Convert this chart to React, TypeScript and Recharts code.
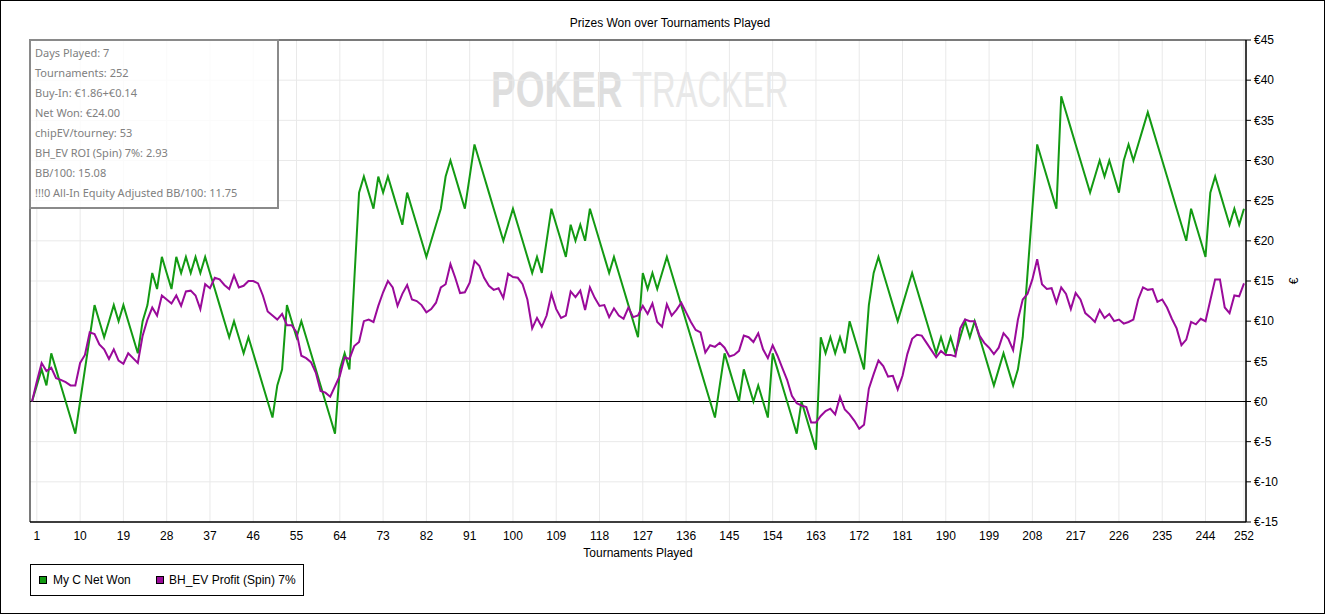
import React from 'react';
import { LineChart, Line, XAxis, YAxis, CartesianGrid, ReferenceLine, ReferenceArea } from 'recharts';

// Cumulative net won (€) after each tournament, index 0 = start
const netWon: number[] = [
  0, 2, 4, 2, 6, 4, 2, 0, -2, -4,
  0, 4, 8, 12, 10, 8, 10, 12, 10, 12,
  10, 8, 6, 10, 12, 16, 14, 18, 16, 14,
  18, 16, 18, 16, 18, 16, 18, 16, 14, 12,
  10, 8, 10, 8, 6, 8, 6, 4, 2, 0,
  -2, 2, 4, 12, 10, 8, 10, 8, 6, 4,
  2, 0, -2, -4, 4, 6, 4, 15, 26, 28,
  26, 24, 28, 26, 28, 26, 24, 22, 26, 24,
  22, 20, 18, 20, 22, 24, 28, 30, 28, 26,
  24, 28, 32, 30, 28, 26, 24, 22, 20, 22,
  24, 22, 20, 18, 16, 18, 16, 20, 24, 22,
  20, 18, 22, 20, 22, 20, 24, 22, 20, 18,
  16, 18, 16, 14, 12, 10, 8, 16, 14, 16,
  14, 16, 18, 16, 14, 12, 10, 8, 6, 4,
  2, 0, -2, 2, 6, 4, 2, 0, 4, 2,
  0, 2, 0, -2, 6, 4, 2, 0, -2, -4,
  0, -2, -4, -6, 8, 6, 8, 6, 8, 6,
  10, 8, 6, 4, 12, 16, 18, 16, 14, 12,
  10, 12, 14, 16, 14, 12, 10, 8, 6, 8,
  6, 8, 6, 8, 10, 8, 10, 8, 6, 4,
  2, 4, 6, 4, 2, 4, 8, 16, 24, 32,
  30, 28, 26, 24, 38, 36, 34, 32, 30, 28,
  26, 28, 30, 28, 30, 28, 26, 30, 32, 30,
  32, 34, 36, 34, 32, 30, 28, 26, 24, 22,
  20, 24, 22, 20, 18, 26, 28, 26, 24, 22,
  24, 22, 24,
];

// BH_EV profit (€) after each tournament
const evProfit: number[] = [
  0, 2.5, 4.8, 3.8, 4.2, 2.9, 2.7, 2.4, 2.0, 2.0,
  4.8, 5.8, 8.6, 8.4, 7.1, 6.5, 5.3, 6.5, 5.1, 4.7,
  6.0, 5.4, 4.8, 8.2, 10.2, 11.7, 10.7, 13.2, 12.7, 12.2,
  13.2, 11.9, 13.7, 13.8, 13.2, 11.5, 14.6, 14.1, 15.4, 15.2,
  14.5, 14.0, 15.7, 14.2, 14.4, 15.0, 15.0, 14.7, 13.2, 11.2,
  10.7, 10.2, 10.9, 9.5, 9.5, 8.6, 5.7, 5.4, 4.9, 3.6,
  1.3, 1.1, 0.6, 1.9, 3.2, 5.5, 5.3, 6.9, 7.4, 10.0,
  10.2, 9.9, 11.9, 13.6, 15.0, 14.2, 11.9, 13.4, 14.5, 12.7,
  12.5, 12.0, 11.1, 11.5, 12.3, 14.2, 14.6, 17.1, 15.4, 13.5,
  13.6, 14.8, 17.5, 16.9, 15.4, 14.4, 13.9, 14.1, 12.9, 15.9,
  15.5, 15.4, 14.6, 12.7, 9.1, 10.4, 9.3, 10.7, 13.4, 11.5,
  10.4, 10.7, 13.7, 13.0, 13.8, 11.4, 14.2, 12.9, 11.9, 12.0,
  10.5, 11.6, 10.7, 10.3, 11.7, 10.5, 10.7, 11.9, 10.9, 12.2,
  9.9, 9.3, 12.1, 10.7, 11.4, 12.3, 11.1, 9.9, 8.9, 8.6,
  6.1, 7.0, 6.8, 7.3, 6.7, 5.6, 5.8, 6.3, 8.2, 8.0,
  7.4, 8.5, 6.5, 5.4, 7.0, 5.7, 4.2, 2.7, 0.7, -0.2,
  -0.5, -0.7, -2.6, -2.6, -1.8, -1.2, -0.9, -1.6, 0.6, -1.0,
  -1.6, -2.4, -3.4, -2.9, 1.6, 3.4, 5.1, 4.4, 3.1, 3.2,
  1.5, 3.2, 5.9, 7.8, 8.3, 8.2, 7.3, 6.4, 5.5, 6.3,
  5.8, 5.8, 5.6, 9.1, 10.2, 10.0, 10.0, 8.2, 7.3, 6.7,
  5.9, 6.7, 8.5, 7.8, 6.4, 10.2, 12.7, 13.4, 15.2, 17.7,
  14.6, 14.0, 14.1, 12.3, 14.2, 13.4, 11.5, 13.5, 12.7, 11.0,
  10.5, 9.9, 11.4, 10.4, 10.9, 10.0, 10.2, 9.7, 9.9, 10.2,
  12.7, 14.2, 13.9, 14.0, 12.4, 12.7, 11.7, 10.3, 9.1, 7.0,
  7.7, 9.9, 9.6, 10.3, 10.0, 12.6, 15.2, 15.2, 11.7, 11.0,
  13.2, 13.1, 14.7,
];

const xTicks: number[] = [1, 10, 19, 28, 37, 46, 55, 64, 73, 82, 91, 100, 109, 118, 127, 136, 145, 154, 163, 172, 181, 190, 199, 208, 217, 226, 235, 244, 252];
const yTicks: number[] = [-15, -10, -5, 0, 5, 10, 15, 20, 25, 30, 35, 40, 45];

const infoLines: string[] = [
  'Days Played: 7',
  'Tournaments: 252',
  'Buy-In: €1.86+€0.14',
  'Net Won: €24.00',
  'chipEV/tourney: 53',
  'BH_EV ROI (Spin) 7%: 2.93',
  'BB/100: 15.08',
  '!!!0 All-In Equity Adjusted BB/100: 11.75',
];

const seriesNames = { net: 'My C Net Won', ev: 'BH_EV Profit (Spin) 7%' };
const GREEN = '#139a13';
const PURPLE = '#9a0a9a';

const data = netWon.map((v, i) => ({ n: i, net: v, ev: evProfit[i] }));

const X_DOMAIN: [number, number] = [-0.42, 252.42];
const FONT = '"Liberation Sans", Arial, sans-serif';

export default function App() {
  return (
    <div style={{ position: 'absolute', left: 0, top: 0, width: 1325, height: 614, background: '#fff', overflow: 'hidden' }}>
      <svg width={1325} height={614} style={{ position: 'absolute', left: 0, top: 0 }}>
        <g transform="translate(491,107) scale(0.74,1)">
          <text x={0} y={0} fontFamily={FONT} fontWeight="bold" fontSize={50} fill="#dedede">POKER</text>
        </g>
        <g transform="translate(632,107) scale(0.655,1)">
          <text x={0} y={0} fontFamily={FONT} fontSize={50} fill="#e8e8e8">TRACKER</text>
        </g>
        <text x={670} y={27} fontFamily={FONT} fontSize={12} fill="#000" textAnchor="middle">Prizes Won over Tournaments Played</text>
      </svg>
      <div style={{ position: 'absolute', left: 0, top: 0 }}>
        <LineChart width={1325} height={614} data={data} margin={{ top: 40, right: 0, bottom: 52, left: 30 }}>
          <CartesianGrid stroke="#e9e9e9" strokeWidth={1} />
          <XAxis
            dataKey="n"
            type="number"
            domain={X_DOMAIN}
            ticks={xTicks}
            interval={0}
            allowDataOverflow
            height={40}
            tickLine={false}
            tickSize={0}
            tickMargin={9}
            axisLine={{ stroke: '#000' }}
            tick={{ fill: '#000', fontSize: 12, fontFamily: FONT }}
            label={{ value: 'Tournaments Played', position: 'insideBottom', offset: 5, fill: '#000', fontSize: 12, fontFamily: FONT }}
          />
          <YAxis
            orientation="right"
            domain={[-15, 45]}
            ticks={yTicks}
            interval={0}
            width={79}
            tickSize={5}
            tickMargin={3}
            tickLine={{ stroke: '#000' }}
            axisLine={{ stroke: '#000' }}
            tick={{ fill: '#000', fontSize: 12, fontFamily: FONT }}
            tickFormatter={(v: number) => `€${v}`}
            label={{
              content: () => (
                <text x={1294} y={281} textAnchor="middle" dominantBaseline="central" transform="rotate(-90 1294 281)" fontSize={12} fontFamily={FONT} fill="#000">€</text>
              ),
            }}
          />
          <ReferenceArea x1={X_DOMAIN[0]} x2={X_DOMAIN[1]} y1={-15} y2={45} fill="none" stroke="#000" strokeWidth={1} ifOverflow="visible" />
          <ReferenceLine y={0} stroke="#000" strokeWidth={1} />
          <Line type="linear" dataKey="net" name={seriesNames.net} stroke={GREEN} strokeWidth={2} dot={false} isAnimationActive={false} />
          <Line type="linear" dataKey="ev" name={seriesNames.ev} stroke={PURPLE} strokeWidth={2} dot={false} isAnimationActive={false} />
        </LineChart>
      </div>
      <div
        style={{
          position: 'absolute', left: 29, top: 39, width: 250, height: 170, boxSizing: 'border-box',
          border: '2px solid #8a8a8a', background: 'rgba(255,255,255,0.8)',
          fontFamily: '"Noto Sans", "Open Sans", sans-serif', fontSize: 11, color: '#808080',
        }}
      >
        {infoLines.map((t, i) => (
          <div key={i} style={{ position: 'absolute', left: 4, top: 3 + i * 20, lineHeight: '18px', whiteSpace: 'nowrap' }}>{t}</div>
        ))}
      </div>
      <div
        style={{
          position: 'absolute', left: 30, top: 564, width: 274, height: 32, boxSizing: 'border-box',
          border: '1px solid #000', fontFamily: FONT, fontSize: 12, color: '#000',
        }}
      >
        <div style={{ position: 'absolute', left: 8, top: 11, width: 8, height: 8, boxSizing: 'border-box', background: GREEN, border: '1px solid #000' }} />
        <div style={{ position: 'absolute', left: 22, top: 8, lineHeight: '14px', whiteSpace: 'nowrap' }}>{seriesNames.net}</div>
        <div style={{ position: 'absolute', left: 125, top: 11, width: 8, height: 8, boxSizing: 'border-box', background: PURPLE, border: '1px solid #000' }} />
        <div style={{ position: 'absolute', left: 138, top: 8, lineHeight: '14px', whiteSpace: 'nowrap' }}>{seriesNames.ev}</div>
      </div>
      <div style={{ position: 'absolute', left: 0, top: 0, width: 1325, height: 614, boxSizing: 'border-box', border: '1px solid #000', pointerEvents: 'none' }} />
    </div>
  );
}
